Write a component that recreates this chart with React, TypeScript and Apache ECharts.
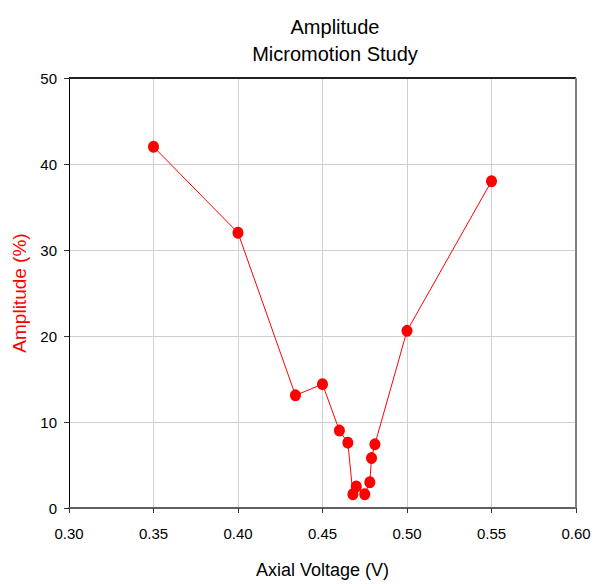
import React, { useEffect, useRef } from "react";
import * as echarts from "echarts";

const voltages = [0.35, 0.40, 0.434, 0.45, 0.46, 0.465, 0.468, 0.470, 0.475, 0.478, 0.479, 0.481, 0.50, 0.55];
const amplitudes = [42.0, 32.0, 13.1, 14.4, 9.0, 7.6, 1.6, 2.5, 1.6, 3.0, 5.8, 7.4, 20.6, 38.0];
const xTicks = [0.30, 0.35, 0.40, 0.45, 0.50, 0.55, 0.60];
const yTicks = [0, 10, 20, 30, 40, 50];

export default function App() {
  const ref = useRef<HTMLDivElement>(null);
  useEffect(() => {
    if (!ref.current) return;
    const chart = echarts.init(ref.current, null, { renderer: "svg" });
    const font = "'Liberation Sans', Arial, sans-serif";
    const xMin = xTicks[0];
    const xMax = xTicks[xTicks.length - 1];
    const yMin = yTicks[0];
    const yMax = yTicks[yTicks.length - 1];
    chart.setOption({
      animation: false,
      backgroundColor: "#ffffff",
      title: {
        text: "Amplitude\nMicromotion Study",
        left: 330,
        top: 8,
        textAlign: "center",
        textStyle: { fontFamily: font, fontSize: 20, fontWeight: "normal", color: "#000", lineHeight: 27 },
      },
      grid: { left: 69, right: 22, top: 78, bottom: 72, show: false },
      xAxis: {
        type: "value",
        min: xMin,
        max: xMax,
        interval: 0.05,
        name: "Axial Voltage (V)",
        nameLocation: "middle",
        nameGap: 53,
        nameTextStyle: { fontFamily: font, fontSize: 18, color: "#000" },
        axisLine: { show: true, onZero: false, lineStyle: { color: "#606060", width: 2 } },
        axisTick: { show: true, length: 5, lineStyle: { color: "#333", width: 1 } },
        axisLabel: { fontFamily: font, fontSize: 15, color: "#000", margin: 18, formatter: (v: number) => v.toFixed(2) },
        splitLine: { show: true, lineStyle: { color: "#d0d0d0", width: 1 } },
      },
      yAxis: {
        type: "value",
        min: yMin,
        max: yMax,
        interval: 10,
        name: "Amplitude (%)",
        nameLocation: "middle",
        nameGap: 40,
        nameTextStyle: { fontFamily: font, fontSize: 19, color: "#ff0000" },
        axisLine: { show: true, lineStyle: { color: "#000", width: 1 } },
        axisTick: { show: true, length: 5, lineStyle: { color: "#333", width: 1 } },
        axisLabel: { fontFamily: font, fontSize: 15, color: "#000", margin: 12 },
        splitLine: { show: true, lineStyle: { color: "#d0d0d0", width: 1 } },
      },
      series: [
        {
          type: "line",
          data: voltages.map((v, i) => [v, amplitudes[i]]),
          symbol: "circle",
          symbolSize: [11, 12],
          showSymbol: true,
          itemStyle: { color: "#ff0000" },
          lineStyle: { color: "#ff0000", width: 1 },
          z: 5,
        },
        {
          type: "line",
          data: [[xMin, yMax], [xMax, yMax]],
          symbol: "none",
          lineStyle: { color: "#222", width: 2 },
          silent: true,
          z: 3,
        },
        {
          type: "line",
          data: [[xMax, yMax], [xMax, yMin]],
          symbol: "none",
          lineStyle: { color: "#808080", width: 2 },
          silent: true,
          z: 3,
        },
      ],
    });
    return () => chart.dispose();
  }, []);
  return <div ref={ref} style={{ width: 598, height: 584, position: "absolute", left: 0, top: 0 }} />;
}
